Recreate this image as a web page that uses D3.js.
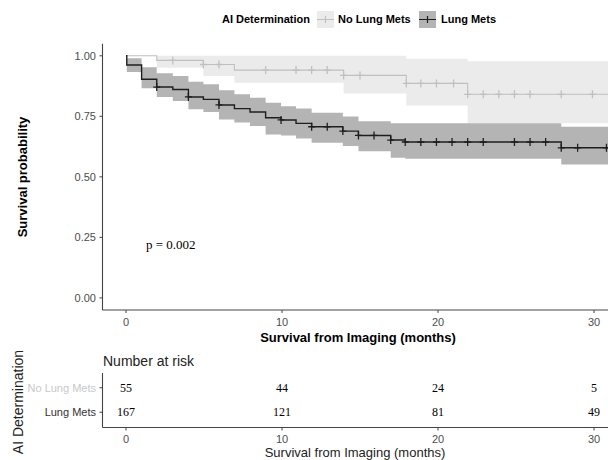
<!DOCTYPE html>
<html>
<head>
<meta charset="utf-8">
<script src="https://cdn.jsdelivr.net/npm/d3@7"></script>
<style>
	body { margin: 0; background: #fff; }
	svg { display: block; font-family: "Liberation Sans", Arial, sans-serif; }
</style>
</head>
<body>
<svg id="chart" width="608" height="460"></svg>
<script>
// Strata
var groups = ["No Lung Mets", "Lung Mets"];

// No Lung Mets - KM steps, CI and censor times (months)
var noMetsTime = [0, 1.97, 4.96, 6.95, 13.95, 17.97, 21.9];
var noMetsSurv = [1, 0.981, 0.964, 0.941, 0.919, 0.886, 0.841];
var noMetsLower = [1, 0.951, 0.917, 0.889, 0.844, 0.795, 0.721];
var noMetsUpper = [1, 1, 1, 1, 1, 0.988, 0.978];
var noMetsCensor = [3.0, 4.96, 5.96, 8.95, 10.9, 11.9, 12.9, 13.95, 15.0, 17.97, 18.9, 19.9, 21.0, 21.9, 22.9, 23.9, 24.9, 25.9, 27.9, 29.9];

// Lung Mets
var metsTime = [0, 0.05, 1.0, 1.97, 3.0, 4.0, 4.96, 5.96, 6.95, 7.95, 8.95, 9.94, 10.9, 11.9, 13.9, 14.9, 16.97, 17.9, 27.9];
var metsSurv = [1, 0.962, 0.903, 0.871, 0.861, 0.830, 0.820, 0.797, 0.782, 0.768, 0.744, 0.735, 0.721, 0.707, 0.689, 0.671, 0.652, 0.644, 0.620];
var metsLower = [1, 0.933, 0.866, 0.830, 0.813, 0.779, 0.768, 0.737, 0.724, 0.710, 0.675, 0.671, 0.658, 0.641, 0.627, 0.606, 0.579, 0.575, 0.551];
var metsUpper = [1, 0.990, 0.953, 0.928, 0.917, 0.893, 0.882, 0.858, 0.841, 0.827, 0.806, 0.792, 0.782, 0.765, 0.749, 0.730, 0.721, 0.721, 0.707];
var metsCensor = [1.97, 4.0, 5.96, 9.94, 11.9, 12.9, 13.9, 14.9, 15.9, 16.97, 17.9, 18.9, 19.9, 20.9, 21.9, 22.9, 24.9, 25.9, 26.9, 27.9, 28.95, 30.8];

var endTime = 32;

// Axis ticks
var xTicks = [0, 10, 20, 30];
var yTicks = [0, 0.25, 0.5, 0.75, 1];

// Number at risk table
var riskNoMets = [55, 44, 24, 5];
var riskMets = [167, 121, 81, 49];

var pText = "p = 0.002";

// Colours
var col = {
	"No Lung Mets": { line: "#c0c0c0", band: "#ebebeb", label: "#c8c8c8" },
	"Lung Mets": { line: "#1e1e1e", band: "#b4b4b4", label: "#333333" }
};

var svg = d3.select("#chart");

// Scales
var x = d3.scaleLinear().domain([0, 30]).range([126, 594]);
var y = d3.scaleLinear().domain([-0.05, 1.05]).range([310, 43.7]);

var plotLeft = 102.5, plotTop = 43.7, plotBottom = 310, plotRight = 640;

svg.append("clipPath").attr("id", "clip")
	.append("rect")
	.attr("x", plotLeft).attr("y", plotTop)
	.attr("width", plotRight - plotLeft).attr("height", plotBottom - plotTop);

var plot = svg.append("g").attr("clip-path", "url(#clip)");

// Build step rows
function rows(time, surv, lo, hi) {
	var r = time.map((t, i) => ({ t: t, s: surv[i], lo: lo[i], hi: hi[i] }));
	var last = r[r.length - 1];
	r.push({ t: endTime, s: last.s, lo: last.lo, hi: last.hi });
	return r;
}

function survAt(time, surv, t) {
	var i = d3.bisectRight(time, t) - 1;
	return surv[Math.max(0, i)];
}

var series = [
	{ name: "No Lung Mets", data: rows(noMetsTime, noMetsSurv, noMetsLower, noMetsUpper), time: noMetsTime, surv: noMetsSurv, censor: noMetsCensor },
	{ name: "Lung Mets", data: rows(metsTime, metsSurv, metsLower, metsUpper), time: metsTime, surv: metsSurv, censor: metsCensor }
];

var area = d3.area()
	.curve(d3.curveStepAfter)
	.x(d => x(d.t))
	.y0(d => y(d.lo))
	.y1(d => y(Math.min(1, d.hi)));

var line = d3.line()
	.curve(d3.curveStepAfter)
	.x(d => x(d.t))
	.y(d => y(d.s));

// Confidence bands
series.forEach(function(s) {
	plot.append("path")
		.datum(s.data)
		.attr("fill", col[s.name].band)
		.attr("d", area);
});

// Survival curves and censor marks
series.forEach(function(s) {
	plot.append("path")
		.datum(s.data)
		.attr("fill", "none")
		.attr("stroke", col[s.name].line)
		.attr("stroke-width", s.name == "Lung Mets" ? 1.4 : 1.1)
		.attr("d", line);

	plot.selectAll(null)
		.data(s.censor)
		.enter()
		.append("path")
		.attr("transform", t => "translate(" + x(t) + "," + y(survAt(s.time, s.surv, t)) + ")")
		.attr("d", "M-3.5,0H3.5M0,-4V4")
		.attr("stroke", col[s.name].line)
		.attr("stroke-width", 1.3);
});

// Axes
var axisCol = "#4d4d4d";

svg.append("line")
	.attr("x1", plotLeft).attr("x2", plotLeft)
	.attr("y1", plotTop).attr("y2", plotBottom)
	.attr("stroke", "#444").attr("stroke-width", 1.1);
svg.append("line")
	.attr("x1", plotLeft).attr("x2", 608)
	.attr("y1", plotBottom).attr("y2", plotBottom)
	.attr("stroke", "#444").attr("stroke-width", 1.1);

svg.selectAll(".ytick")
	.data(yTicks)
	.enter()
	.append("line")
	.attr("x1", plotLeft - 3).attr("x2", plotLeft)
	.attr("y1", d => y(d)).attr("y2", d => y(d))
	.attr("stroke", "#444");

svg.selectAll(".ylab")
	.data(yTicks)
	.enter()
	.append("text")
	.attr("x", 96)
	.attr("y", d => y(d))
	.attr("dy", "0.35em")
	.attr("text-anchor", "end")
	.attr("font-size", 11)
	.attr("fill", axisCol)
	.text(d => d3.format(".2f")(d));

svg.selectAll(".xtick")
	.data(xTicks)
	.enter()
	.append("line")
	.attr("x1", d => x(d)).attr("x2", d => x(d))
	.attr("y1", plotBottom).attr("y2", plotBottom + 3)
	.attr("stroke", "#444");

svg.selectAll(".xlab")
	.data(xTicks)
	.enter()
	.append("text")
	.attr("x", d => x(d))
	.attr("y", 322)
	.attr("dy", "0.35em")
	.attr("text-anchor", "middle")
	.attr("font-size", 11)
	.attr("fill", axisCol)
	.text(d => d);

// Axis titles
svg.append("text")
	.attr("x", 358)
	.attr("y", 337)
	.attr("dy", "0.35em")
	.attr("text-anchor", "middle")
	.attr("font-size", 13)
	.attr("font-weight", "bold")
	.text("Survival from Imaging (months)");

svg.append("text")
	.attr("transform", "translate(22,177) rotate(-90)")
	.attr("dy", "0.35em")
	.attr("text-anchor", "middle")
	.attr("font-size", 13)
	.attr("font-weight", "bold")
	.text("Survival probability");

// p-value
svg.append("text")
	.attr("x", 146)
	.attr("y", 244)
	.attr("dy", "0.35em")
	.attr("font-family", "'Liberation Serif', 'Times New Roman', serif")
	.attr("font-size", 13)
	.text(pText);

// Legend
var legend = svg.append("g");
legend.append("text")
	.attr("x", 222).attr("y", 19.5).attr("dy", "0.35em")
	.attr("font-size", 11).attr("font-weight", "bold")
	.text("AI Determination");

var keyX = [317, 419], labX = [338, 441];
groups.forEach(function(g, i) {
	var k = legend.append("g").attr("transform", "translate(" + keyX[i] + ",11)");
	k.append("rect").attr("width", 17).attr("height", 17).attr("fill", col[g].band);
	k.append("path").attr("d", "M0,8.5H17M8.5,5V12M5,8.5H12")
		.attr("stroke", col[g].line).attr("stroke-width", 1.2);
	legend.append("text")
		.attr("x", labX[i]).attr("y", 19.5).attr("dy", "0.35em")
		.attr("font-size", 11).attr("font-weight", "bold")
		.text(g);
});

// Number at risk table
var ry = d3.scalePoint().domain(groups).range([373, 427]).padding(0.6);
var risk = { "No Lung Mets": riskNoMets, "Lung Mets": riskMets };

svg.append("text")
	.attr("x", 103).attr("y", 361).attr("dy", "0.35em")
	.attr("font-size", 14).attr("fill", "#222")
	.text("Number at risk");

svg.append("line")
	.attr("x1", plotLeft).attr("x2", plotLeft)
	.attr("y1", 373).attr("y2", 427.5)
	.attr("stroke", "#444").attr("stroke-width", 1.1);
svg.append("line")
	.attr("x1", plotLeft).attr("x2", 608)
	.attr("y1", 427.5).attr("y2", 427.5)
	.attr("stroke", "#444").attr("stroke-width", 1.1);

groups.forEach(function(g) {
	svg.append("line")
		.attr("x1", plotLeft - 3).attr("x2", plotLeft)
		.attr("y1", ry(g)).attr("y2", ry(g))
		.attr("stroke", "#444");
	svg.append("text")
		.attr("x", 96).attr("y", ry(g)).attr("dy", "0.35em")
		.attr("text-anchor", "end")
		.attr("font-size", 11)
		.attr("fill", col[g].label)
		.text(g);
	svg.selectAll(null)
		.data(risk[g])
		.enter()
		.append("text")
		.attr("x", (d, i) => x(xTicks[i]))
		.attr("y", ry(g)).attr("dy", "0.35em")
		.attr("text-anchor", "middle")
		.attr("font-family", "'Liberation Serif', 'Times New Roman', serif")
		.attr("font-size", 12)
		.text(d => d);
});

svg.selectAll(".rtick")
	.data(xTicks)
	.enter()
	.append("line")
	.attr("x1", d => x(d)).attr("x2", d => x(d))
	.attr("y1", 427.5).attr("y2", 430.5)
	.attr("stroke", "#444");

svg.selectAll(".rlab")
	.data(xTicks)
	.enter()
	.append("text")
	.attr("x", d => x(d))
	.attr("y", 439)
	.attr("dy", "0.35em")
	.attr("text-anchor", "middle")
	.attr("font-size", 11)
	.attr("fill", axisCol)
	.text(d => d);

svg.append("text")
	.attr("x", 355)
	.attr("y", 452.5)
	.attr("dy", "0.35em")
	.attr("text-anchor", "middle")
	.attr("font-size", 13)
	.attr("fill", "#222")
	.text("Survival from Imaging (months)");

svg.append("text")
	.attr("transform", "translate(18,402) rotate(-90)")
	.attr("dy", "0.35em")
	.attr("text-anchor", "middle")
	.attr("font-size", 14)
	.attr("fill", "#222")
	.text("AI Determination");
</script>
</body>
</html>
